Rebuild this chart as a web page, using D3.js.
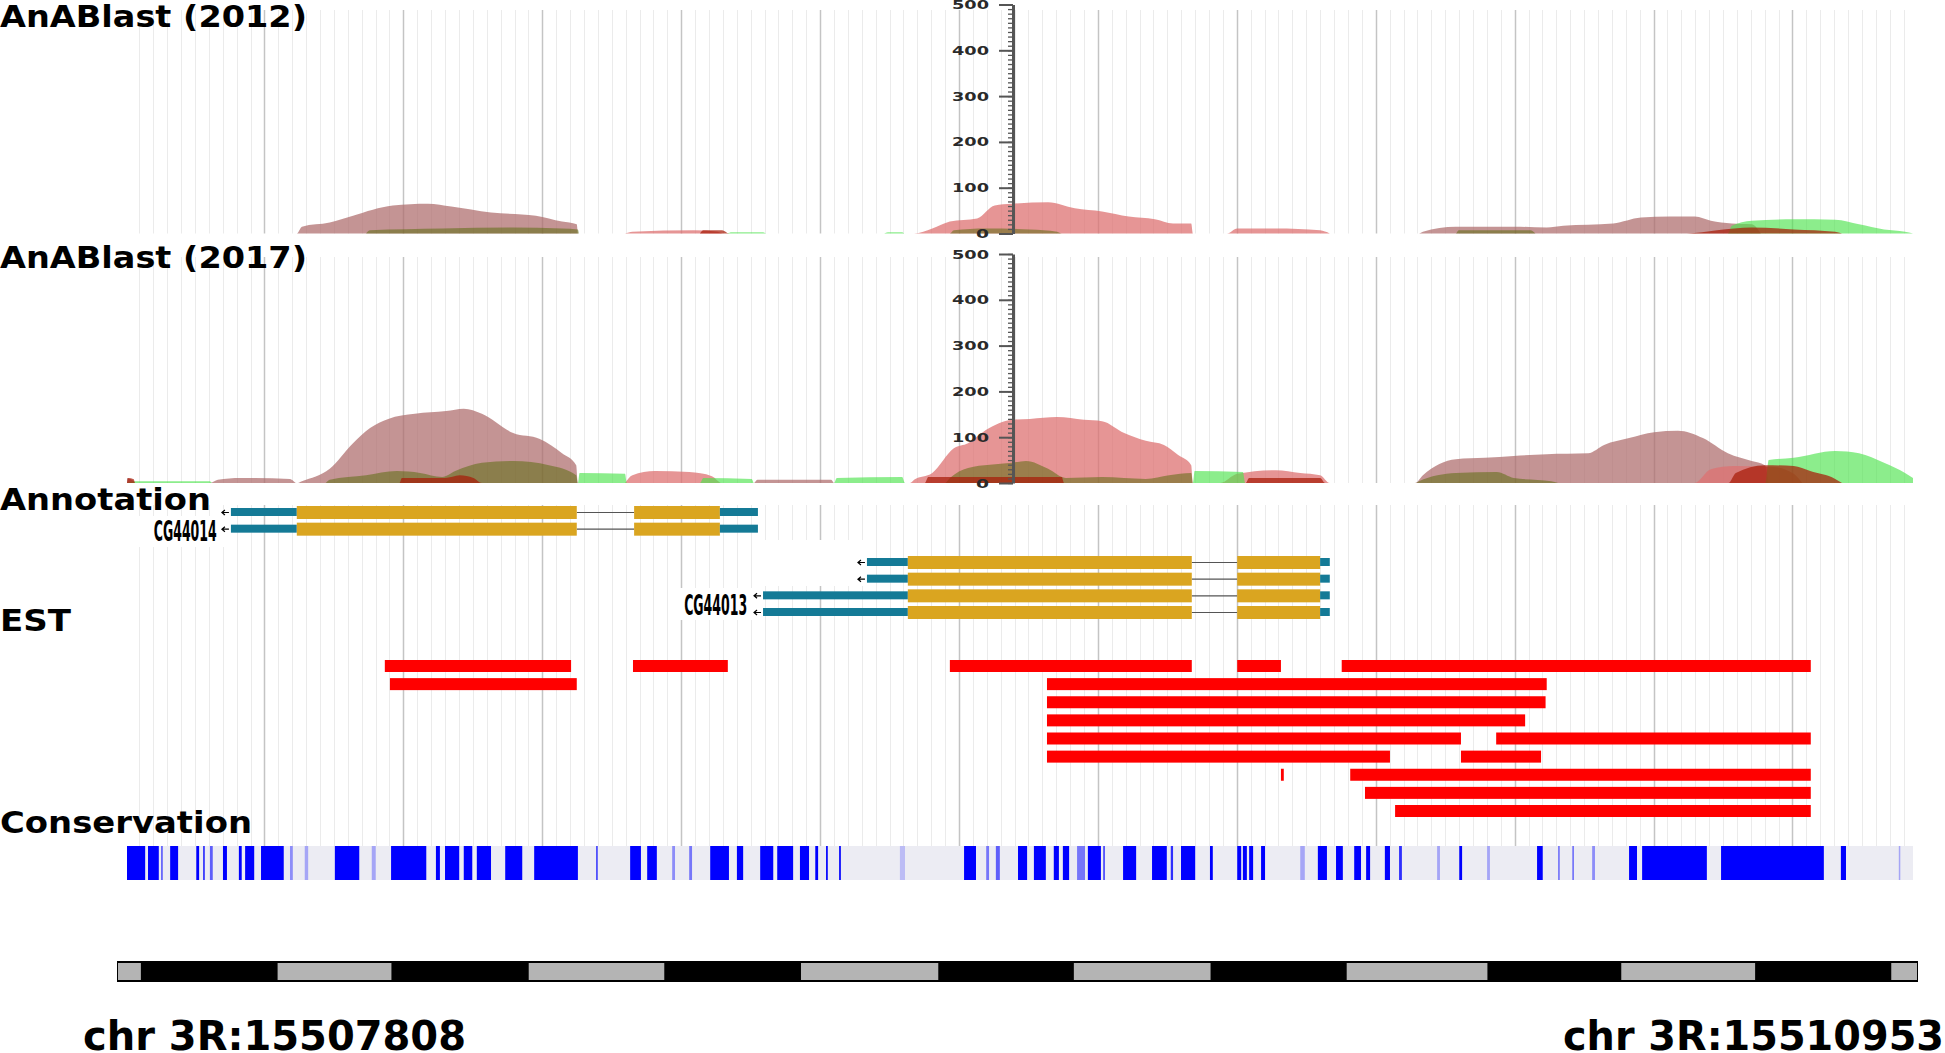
<!DOCTYPE html>
<html>
<head>
<meta charset="utf-8">
<script src="https://cdn.jsdelivr.net/npm/d3@7"></script>
<style>
  body { margin: 0; background: #fff; }
  text { font-family: "DejaVu Sans", sans-serif; }
</style>
</head>
<body>
<div class="chartsWrapper"></div>
<script>

// window shown by the browser
var winStart = 15507808,
    winEnd = 15510953

// AnABlast profiles: [bp offset from winStart, score]
var b12Rosy = [[0,0],[299,0],[308,15],[357,24],[398,39],[468,61],[530,65],[571,59],[641,46],[720,39],[766,26],[792,20],[794,0],
  [2275,0],[2282,4],[2340,15],[2442,15],[2500,13],[2529,17],[2617,22],[2666,35],[2717,37],[2761,37],[2789,28],[2826,22],[2861,20],[2877,0]]
var b12Pink = [[877,0],[890,4],[1000,7],[1040,4],[1050,0],
  [1386,0],[1418,11],[1449,26],[1497,33],[1528,61],[1558,65],[1622,68],[1669,55],[1717,48],[1764,37],[1810,31],[1842,22],[1874,22],[1877,0],
  [1937,0],[1955,11],[2023,11],[2101,7],[2118,0]]
var b12Green = [[1057,0],[1065,3],[1120,3],[1127,0],[1331,0],[1340,3],[1365,3],[1370,0],
  [2819,0],[2826,17],[2861,28],[2935,31],[3008,30],[3050,20],[3094,9],[3131,4],[3145,0]]
var b12Olive = [[421,0],[428,7],[555,11],[680,13],[766,11],[794,9],[796,0],
  [1449,0],[1456,7],[1513,11],[1590,9],[1638,4],[1646,0],[2340,0],[2345,7],[2471,7],[2480,0]]
var b12DarkRed = [[1009,0],[1015,7],[1048,7],[1060,0],[2747,0],[2800,7],[2861,13],[2935,9],[3008,4],[3020,0]]

var b17Rosy = [[0,11],[12,4],[14,0],[146,0],[160,7],[200,11],[287,9],[299,0],
  [308,4],[357,31],[398,87],[428,120],[460,140],[507,151],[562,157],[593,162],[625,151],[680,109],[727,96],[766,65],[791,39],[794,0],
  [1104,0],[1110,7],[1240,7],[1245,0],
  [2268,0],[2282,17],[2340,52],[2391,55],[2442,59],[2500,63],[2573,65],[2601,83],[2645,98],[2689,111],[2731,114],[2775,98],[2819,65],[2861,48],[2884,39],[2891,0]]
var b17Pink = [[877,0],[890,17],[930,26],[990,24],[1030,15],[1048,0],
  [1379,0],[1386,7],[1418,22],[1456,76],[1481,87],[1513,116],[1558,138],[1590,140],[1638,144],[1685,138],[1717,135],[1756,109],[1794,92],[1826,83],[1851,61],[1874,39],[1877,0],
  [1925,0],[1955,20],[2023,28],[2066,22],[2101,17],[2118,0],[2760,0],[2789,30],[2830,37],[2900,35],[2935,20],[2950,0]]
var b17Green = [[0,0],[12,4],[146,4],[150,0],[794,0],[797,22],[877,20],[880,0],[1009,0],[1015,11],[1100,9],[1104,0],
  [1245,0],[1250,11],[1365,13],[1370,0],[1877,0],[1880,26],[1965,24],[1969,0],
  [2885,0],[2891,50],[2935,55],[3008,70],[3050,65],[3094,44],[3131,22],[3145,11]]
var b17Olive = [[350,0],[357,7],[421,17],[475,26],[516,22],[555,13],[578,26],[625,44],[680,48],[743,39],[791,17],[794,0],
  [1440,0],[1449,11],[1481,33],[1558,44],[1583,48],[1622,31],[1653,11],[1717,13],[1794,9],[1835,17],[1874,22],[1877,0],
  [2270,0],[2275,4],[2340,22],[2412,24],[2442,11],[2508,4],[2520,0]]
var b17DarkRed = [[0,0],[2,11],[12,8],[14,0],[480,0],[484,11],[560,11],[586,17],[610,11],[625,0],
  [1405,0],[1411,13],[1646,13],[1650,0],[1970,0],[1976,11],[2101,11],[2110,0],
  [2820,0],[2833,22],[2884,39],[2935,37],[2964,26],[3008,9],[3020,0]]

var scoreTicks = [0, 100, 200, 300, 400, 500]

// gene models: parts are [start, end, kind] in bp offsets
var transcripts = [
  {gene: 'CG44014', row: 0, parts: [[183,299,'utr'],[299,792,'cds'],[893,1044,'cds'],[1044,1111,'utr']]},
  {gene: 'CG44014', row: 1, parts: [[183,299,'utr'],[299,792,'cds'],[893,1044,'cds'],[1044,1111,'utr']]},
  {gene: 'CG44013', row: 3, parts: [[1303,1375,'utr'],[1375,1875,'cds'],[1955,2101,'cds'],[2101,2118,'utr']]},
  {gene: 'CG44013', row: 4, parts: [[1303,1375,'utr'],[1375,1875,'cds'],[1955,2101,'cds'],[2101,2118,'utr']]},
  {gene: 'CG44013', row: 5, parts: [[1120,1375,'utr'],[1375,1875,'cds'],[1955,2101,'cds'],[2101,2118,'utr']]},
  {gene: 'CG44013', row: 6, parts: [[1120,1375,'utr'],[1375,1875,'cds'],[1955,2101,'cds'],[2101,2118,'utr']]}
]
var geneLabels = [
  {name: 'CG44014', end: 158, row: 1.2},
  {name: 'CG44013', end: 1092, row: 5.64}
]

// EST alignments, one list per row
var estRows = [
  [[454,782],[891,1058],[1449,1875],[1955,2032],[2139,2965]],
  [[463,792],[1620,2500]],
  [[1620,2498]],
  [[1620,2462]],
  [[1620,2349],[2411,2965]],
  [[1620,2224],[2349,2490]],
  [[2032,2037],[2154,2965]],
  [[2180,2965]],
  [[2233,2965]]
]

// conserved stretches: [start, end, strength]
var conservation = [[0,32,1],[37,56,1],[60,63,0.6],[76,90,1],[122,127,1],[134,137,0.8],[146,151,0.6],[169,176,1],[197,202,1],
  [208,224,1],[236,276,1],[287,292,0.4],[313,319,0.3],[366,409,1],[431,438,0.3],[465,527,1],[544,551,1],[560,585,1],[593,608,1],
  [616,641,1],[666,696,1],[717,794,1],[826,829,0.7],[886,905,1],[916,933,1],[960,965,0.4],[990,995,0.5],[1027,1060,1],[1074,1085,1],
  [1115,1138,1],[1145,1173,1],[1185,1201,1],[1212,1217,1],[1231,1234,1],[1254,1257,1],[1361,1370,0.2],[1474,1495,1],[1513,1518,0.5],
  [1530,1537,0.6],[1569,1585,1],[1597,1618,1],[1632,1641,1],[1648,1659,1],[1673,1687,0.5],[1692,1715,1],[1719,1722,0.7],[1754,1777,1],
  [1805,1831,1],[1838,1842,0.8],[1856,1881,1],[1907,1912,1],[1955,1962,1],[1965,1972,1],[1976,1983,1],[1997,2004,1],[2066,2074,0.3],
  [2097,2113,1],[2129,2141,1],[2161,2173,1],[2182,2189,1],[2215,2224,1],[2240,2245,0.8],[2307,2312,0.3],[2346,2351,1],[2395,2400,0.3],
  [2483,2493,1],[2520,2523,0.5],[2545,2548,0.5],[2580,2585,0.4],[2645,2659,1],[2668,2782,1],[2807,2988,1],[3018,3027,1],[3120,3122,0.3]]

// ruler segment edges (bp offsets)
var rulerEdges = [0,40,279,478,718,955,1194,1434,1671,1910,2148,2394,2628,2862,3100,3145]


var svg = d3.select('.chartsWrapper').append('svg')
            .attr('width', 1945)
            .attr('height', 1053)

var x = d3.scaleLinear().domain([0, winEnd - winStart]).range([127, 1913])

// grid: minor every ~24.5 bp, major every 10th
var gridLines = d3.range(-9, 119).map(function(i) { return {pos: 242.1 + i * 24.46, major: i % 10 == 0} })

function drawGrid(y0, y1) {
  svg.append('g').selectAll('line')
     .data(gridLines)
     .enter().append('line')
     .attr('x1', function(d) { return Math.round(x(d.pos)) + 0.5 })
     .attr('x2', function(d) { return Math.round(x(d.pos)) + 0.5 })
     .attr('y1', y0).attr('y2', y1)
     .style('stroke', function(d) { return d.major ? '#c4c4c4' : '#ebebeb' })
     .style('stroke-width', function(d) { return d.major ? 1.5 : 1 })
}

function title(txt, yBase, len) {
  svg.append('text')
     .attr('x', 0).attr('y', yBase)
     .attr('textLength', len).attr('lengthAdjust', 'spacingAndGlyphs')
     .style('font-size', '31px').style('font-weight', 'bold')
     .text(txt)
}

//////////// AnABlast tracks ////////////
var seriesStyle = [
  {key: 'rosy', fill: '#ad6b6b', op: 0.72},
  {key: 'pink', fill: '#de7272', op: 0.75},
  {key: 'green', fill: '#4fe44f', op: 0.65},
  {key: 'olive', fill: '#5c6b10', op: 0.55},
  {key: 'darkred', fill: '#a81c08', op: 0.72}
]

var blastTracks = [
  {name: 'AnABlast (2012)', titleY: 27, gridTop: 10, base: 233.5,
   data: {rosy: b12Rosy, pink: b12Pink, green: b12Green, olive: b12Olive, darkred: b12DarkRed}},
  {name: 'AnABlast (2017)', titleY: 268, gridTop: 257, base: 483,
   data: {rosy: b17Rosy, pink: b17Pink, green: b17Green, olive: b17Olive, darkred: b17DarkRed}}
]

blastTracks.forEach(function(t) {
  drawGrid(t.gridTop, t.base)

  var y = d3.scaleLinear().domain([0, 500]).range([t.base, t.base - 229])
  var area = d3.area()
               .x(function(d) { return x(d[0]) })
               .y0(y(0))
               .y1(function(d) { return y(d[1]) })
               .curve(d3.curveMonotoneX)

  seriesStyle.forEach(function(s) {
    svg.append('path')
       .datum(t.data[s.key])
       .attr('d', area)
       .style('fill', s.fill)
       .style('fill-opacity', s.op)
  })

  // score axis in the middle of the track
  var axisX = 1013
  var minor = svg.append('g')
     .attr('transform', 'translate(' + axisX + ',0)')
     .call(d3.axisLeft(y).tickValues(d3.range(0, 501, 10)).tickSize(5).tickFormat(''))
  minor.selectAll('line').style('stroke', '#555').style('stroke-width', 1.3)
  minor.select('.domain').remove()

  var major = svg.append('g')
     .attr('transform', 'translate(' + axisX + ',0)')
     .call(d3.axisLeft(y).tickValues(scoreTicks).tickSize(14).tickPadding(10).tickSizeOuter(0))
  major.selectAll('line').style('stroke', '#555').style('stroke-width', 2)
  major.select('.domain').style('stroke', '#555').style('stroke-width', 3)
  major.selectAll('text')
       .style('font-size', '12.5px').style('fill', '#2a2a2a').style('font-weight', 'bold')
       .style('font-family', 'DejaVu Sans')
       .attr('textLength', function(d) { return d == 0 ? 13 : 37 })
       .attr('lengthAdjust', 'spacingAndGlyphs')

  title(t.name, t.titleY, 307)
})

//////////// Annotation + EST ////////////
drawGrid(505, 846)

// label backgrounds
svg.append('rect').attr('x', 127).attr('y', 516).attr('width', x(183) - 127).attr('height', 31).style('fill', '#fff')
svg.append('rect').attr('x', 676).attr('y', 588).attr('width', x(1120) - 676).attr('height', 32).style('fill', '#fff')
svg.append('rect').attr('x', x(1120)).attr('y', 540).attr('width', x(1303) - x(1120)).attr('height', 46).style('fill', '#fff')

var rowY = d3.scaleLinear().domain([0, 6]).range([512, 612])

var tx = svg.append('g').selectAll('g')
            .data(transcripts)
            .enter().append('g')

// introns
tx.each(function(t) {
  var g = d3.select(this), cy = rowY(t.row)
  for (var i = 1; i < t.parts.length; i++) {
    if (t.parts[i][0] > t.parts[i-1][1]) {
      g.append('line')
       .attr('x1', x(t.parts[i-1][1])).attr('x2', x(t.parts[i][0]))
       .attr('y1', cy + 0.5).attr('y2', cy + 0.5)
       .style('stroke', '#555').style('stroke-width', 1.2)
    }
  }
  // strand arrow
  var ax = x(t.parts[0][0]) - 2
  g.append('path')
   .attr('d', 'M' + ax + ',' + (cy + 0.5) + 'h-7 M' + (ax - 4) + ',' + (cy - 2) + 'l-3,2.5l3,2.5')
   .style('fill', 'none').style('stroke', '#000').style('stroke-width', 1.2)
})

tx.selectAll('rect')
  .data(function(t) { return t.parts.map(function(p) { return {p: p, row: t.row} }) })
  .enter().append('rect')
  .attr('x', function(d) { return x(d.p[0]) })
  .attr('width', function(d) { return x(d.p[1]) - x(d.p[0]) })
  .attr('y', function(d) { return rowY(d.row) - (d.p[2] == 'cds' ? 6 : 4) })
  .attr('height', function(d) { return d.p[2] == 'cds' ? 13 : 8 })
  .style('fill', function(d) { return d.p[2] == 'cds' ? '#daa520' : '#147a96' })

svg.append('g').selectAll('text')
   .data(geneLabels)
   .enter().append('text')
   .attr('x', function(d) { return x(d.end) })
   .attr('y', function(d) { return rowY(d.row) + 9 })
   .attr('text-anchor', 'end')
   .attr('textLength', 63).attr('lengthAdjust', 'spacingAndGlyphs')
   .style('font-size', '29px').style('font-weight', 'bold')
   .text(function(d) { return d.name })

title('Annotation', 510, 211)
title('EST', 631, 71)

var estY = d3.scaleLinear().domain([0, 8]).range([660, 805])
svg.append('g').selectAll('g')
   .data(estRows)
   .enter().append('g')
   .selectAll('rect')
   .data(function(r, i) { return r.map(function(s) { return {s: s, row: i} }) })
   .enter().append('rect')
   .attr('x', function(d) { return x(d.s[0]) })
   .attr('width', function(d) { return Math.max(2, x(d.s[1]) - x(d.s[0])) })
   .attr('y', function(d) { return estY(d.row) })
   .attr('height', 12)
   .style('fill', '#ff0000')

//////////// Conservation ////////////
title('Conservation', 833, 252)

svg.append('rect')
   .attr('x', x(0)).attr('y', 846).attr('width', x(winEnd - winStart) - x(0)).attr('height', 34)
   .style('fill', '#ececf3')

svg.append('g').selectAll('rect')
   .data(conservation)
   .enter().append('rect')
   .attr('x', function(d) { return x(d[0]) })
   .attr('width', function(d) { return Math.max(1.5, x(d[1]) - x(d[0])) })
   .attr('y', 846).attr('height', 34)
   .style('fill', '#0000ff')
   .style('fill-opacity', function(d) { return d[2] })

//////////// ruler ////////////
var xr = d3.scaleLinear().domain([0, winEnd - winStart]).range([118, 1917])
svg.append('rect').attr('x', 117).attr('y', 961).attr('width', 1801).attr('height', 21).style('fill', '#000')
svg.append('g').selectAll('rect')
   .data(d3.pairs(rulerEdges).filter(function(d, i) { return i % 2 == 0 }))
   .enter().append('rect')
   .attr('x', function(d) { return xr(d[0]) })
   .attr('width', function(d) { return xr(d[1]) - xr(d[0]) })
   .attr('y', 963).attr('height', 17)
   .style('fill', '#b4b4b4')

svg.append('text')
   .attr('x', 83).attr('y', 1050)
   .attr('textLength', 383).attr('lengthAdjust', 'spacingAndGlyphs')
   .style('font-size', '41px').style('font-weight', 'bold')
   .text('chr 3R:' + winStart)
svg.append('text')
   .attr('x', 1944).attr('y', 1050)
   .attr('text-anchor', 'end')
   .attr('textLength', 381).attr('lengthAdjust', 'spacingAndGlyphs')
   .style('font-size', '41px').style('font-weight', 'bold')
   .text('chr 3R:' + winEnd)

</script>
</body>
</html>
